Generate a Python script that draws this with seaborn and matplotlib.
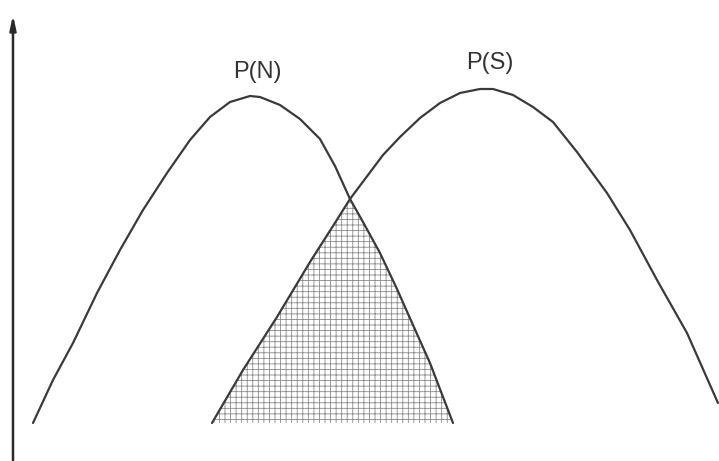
import matplotlib
matplotlib.use("Agg")
import matplotlib.pyplot as plt
import seaborn as sns

# Curves: x position, height above the baseline
pn_x = [33, 53, 73, 97, 120, 143, 167, 190, 210, 230, 250, 260, 280, 300, 320, 335, 350, 363, 380, 397, 413, 430, 453]
pn_y = [0, 43, 80, 130, 173, 213, 250, 283, 306, 321, 327, 326, 318, 304, 284, 257, 224, 201, 170, 134, 98, 60, 0]

ps_x = [212, 243, 277, 310, 333, 350, 383, 400, 420, 440, 460, 480, 493, 513, 533, 553, 577, 607, 630, 657, 687, 718]
ps_y = [0, 53, 106, 161, 197, 224, 268, 286, 305, 320, 330, 334, 334, 328, 316, 301, 271, 230, 193, 143, 90, 20]

labels = ["P(N)", "P(S)"]
label_pos = [(257, 351), (490, 360)]

# overlap region: rising edge of P(S) up to the crossing, then falling edge of P(N)
cross_x = 350
shade_x = [x for x in ps_x if x <= cross_x] + [x for x in pn_x if x > cross_x]
shade_y = [y for x, y in zip(ps_x, ps_y) if x <= cross_x] + [y for x, y in zip(pn_x, pn_y) if x > cross_x]

sns.set_theme(style="white")
plt.rcParams["font.family"] = ["Liberation Sans", "DejaVu Sans"]
plt.rcParams["hatch.linewidth"] = 0.6

fig = plt.figure(figsize=(7.19, 4.61), dpi=100)
ax = fig.add_axes([0, 0, 1, 1])

ax.fill(shade_x + [shade_x[-1], shade_x[0]], shade_y + [0, 0],
        facecolor="white", edgecolor="#8a8a8a", hatch="+++", linewidth=0)

line_color = "#3a3a3a"
sns.lineplot(x=pn_x, y=pn_y, sort=False, ax=ax, color=line_color, linewidth=1.6)
sns.lineplot(x=ps_x, y=ps_y, sort=False, ax=ax, color=line_color, linewidth=1.6)

for text, (tx, ty) in zip(labels, label_pos):
    ax.text(tx, ty, text, ha="center", va="center", fontsize=17, color="#333333")

# vertical axis with arrow
ax.annotate("", xy=(13, 411), xytext=(13, -40),
            arrowprops=dict(arrowstyle="-|>,head_length=0.7,head_width=0.15",
                            color="#2a2a2a", linewidth=1.8))

ax.set_xlim(0, 719)
ax.set_ylim(-38, 423)
ax.axis("off")

fig.savefig("out.png", dpi=100)
